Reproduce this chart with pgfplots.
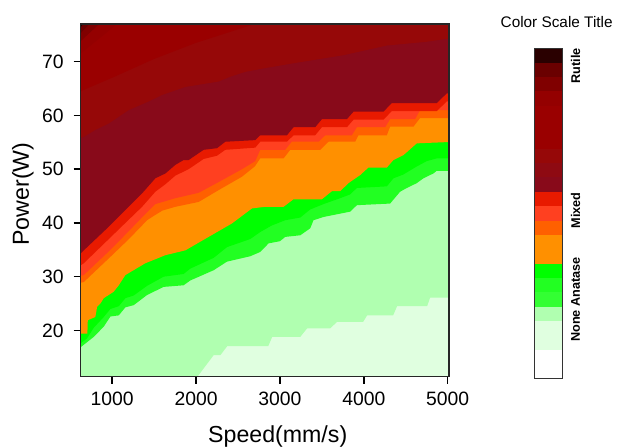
\documentclass[border=0pt]{standalone}
\usepackage{fontspec}
\setmainfont{Liberation Sans}
\usepackage{pgfplots}
\pgfplotsset{compat=1.18}

% level colours, lowest first
\definecolor{cW}{HTML}{FFFFFF}
\definecolor{cGa}{HTML}{E0FFE0}
\definecolor{cGb}{HTML}{B0FFB0}
\definecolor{cGc}{HTML}{33FF33}
\definecolor{cGd}{HTML}{22FF22}
\definecolor{cGe}{HTML}{00FF00}
\definecolor{cOa}{HTML}{FF9000}
\definecolor{cOb}{HTML}{FF6000}
\definecolor{cOc}{HTML}{FF4020}
\definecolor{cRa}{HTML}{E81A00}
\definecolor{cRb}{HTML}{880A1A}
\definecolor{cRc}{HTML}{8E0A12}
\definecolor{cRd}{HTML}{960808}
\definecolor{cRe}{HTML}{9A0000}
\definecolor{cRf}{HTML}{940000}
\definecolor{cRg}{HTML}{800000}
\definecolor{cRh}{HTML}{6A0000}
\definecolor{cRi}{HTML}{2A0000}

\begin{document}
\begin{tikzpicture}
\useasboundingbox (-48.4pt,-42.2pt) rectangle (323.6pt,226.0pt);

\begin{axis}[
    at={(0pt,0pt)}, anchor=south west,
    scale only axis,
    width=221pt, height=211.6pt,
    xmin=625, xmax=5015,
    ymin=11.4, ymax=77,
    xtick={1000,2000,3000,4000,5000},
    ytick={20,30,40,50,60,70},
    xtick pos=left, ytick pos=left,
    tick align=outside,
    major tick length=4.2pt,
    tick style={black, line width=0.9pt},
    axis line style={black!85, line width=0.9pt},
    axis on top,
    scaled x ticks=false,
    /pgf/number format/1000 sep={},
    /pgf/number format/assume math mode=true,
    ticklabel style={font=\fontsize{11.6}{13}\selectfont},
    xticklabel style={yshift=-1.5pt},
    yticklabel style={xshift=-2.5pt},
    label style={font=\fontsize{13.9}{16}\selectfont},
    xlabel={Speed(mm/s)},
    ylabel={Power(W)},
    x label style={at={(axis description cs:0.535,0)}, anchor=center, yshift=-36.2pt},
    y label style={at={(axis description cs:-0.1567,0.518)}, anchor=center},
]
% whole field
\addplot[fill=cGa, draw=none] coordinates {(500,5) (5100,5) (5100,80) (500,80)} -- cycle;
% B1
\addplot[fill=cGb, draw=none] coordinates {
  (500,5) (1714,5) (2012,11.3) (2210,15.4) (2290,15.4) (2373,17.1) (2861,17.1)
  (2908,18.8) (3242,18.8) (3325,20.4) (3599,20.4) (3682,21.6) (3992,21.6)
  (4039,22.8) (4349,22.8) (4396,24.5) (4754,24.5) (4790,26.1) (5100,26.1)
  (5100,80) (500,80)} -- cycle;
% B2
\addplot[fill=cGd, draw=none] coordinates {
  (500,16.5) (625,16.9) (643,17.1) (781,18.8) (900,20.7) (980,22.6) (1079,22.8)
  (1158,24.3) (1257,24.7) (1417,26.6) (1614,28.1) (1852,28.4) (1932,29.3)
  (2210,31.2) (2369,32.8) (2646,33.8) (2765,34.6) (2865,36.2) (3000,36.6)
  (3063,37.4) (3242,37.7) (3361,39.0) (3400,40.5) (3519,41.1) (3837,42.1)
  (3917,43.3) (4313,43.6) (4432,45.8) (4500,46.4) (4631,47.4) (4710,48.3)
  (4829,49.2) (4869,49.7) (5100,49.7)
  (5100,80) (500,80)} -- cycle;
% B3
\addplot[fill=cGe, draw=none] coordinates {
  (500,17.4) (625,17.6) (700,18.5) (781,20.5) (900,22.5) (980,24.0) (1079,24.5)
  (1158,26.0) (1257,26.5) (1417,28.3) (1614,30.0) (1852,30.5) (1932,31.5)
  (2210,33.5) (2369,35.5) (2646,37.0) (2765,38.3) (2900,39.5) (3063,40.5)
  (3242,41.0) (3361,42.5) (3519,43.5) (3700,44.5) (3837,45.3) (3917,46.5)
  (4274,46.8) (4353,48.3) (4471,49.0) (4631,50.5) (4750,51.5) (4869,52.0)
  (5100,52.0)
  (5100,80) (500,80)} -- cycle;
% B4
\addplot[fill=cOa, draw=none] coordinates {
  (500,19.4) (705,19.4) (710,21.9) (800,22.5) (821,24.4) (860,25.0) (900,26.0)
  (1019,27.2) (1079,28.4) (1158,30.3) (1396,32.5) (1635,34.0) (1873,34.9)
  (2150,37.4) (2428,39.9) (2667,42.7) (2825,43.0) (3043,43.0) (3162,44.4)
  (3500,44.4) (3619,45.9) (3718,45.9) (3817,47.4) (3956,48.9) (4055,50.3)
  (4274,50.3) (4353,51.7) (4471,52.6) (4631,54.8) (5100,55.1)
  (5100,80) (500,80)} -- cycle;
% B5
\addplot[fill=cOb, draw=none] coordinates {
  (500,28.5) (662,29.0) (980,33.7) (1200,37.0) (1417,40.5) (1495,41.3)
  (1600,42.3) (1754,43.0) (2031,43.9) (2269,46.1) (2548,48.6) (2700,50.5)
  (2765,52.0) (3043,52.0) (3123,53.6) (3480,53.6) (3579,55.1) (3897,55.1)
  (3936,56.3) (4274,56.3) (4313,57.9) (4591,57.9) (4670,59.5) (5100,59.5)
  (5100,80) (500,80)} -- cycle;
% B6
\addplot[fill=cOc, draw=none] coordinates {
  (500,29.8) (662,30.3) (980,35.0) (1200,38.5) (1417,42.0) (1515,43.5)
  (1754,44.6) (2031,45.6) (2269,47.6) (2548,50.0) (2706,51.5) (2765,53.6)
  (3063,53.6) (3140,55.1) (3460,55.1) (3540,56.3) (3857,56.3) (3917,57.8)
  (4254,57.8) (4313,59.3) (4611,59.3) (4670,61.0) (5100,61.0)
  (5100,80) (500,80)} -- cycle;
% B7
\addplot[fill=cRa, draw=none] coordinates {
  (500,31.9) (625,32.1) (662,32.5) (960,37.0) (1158,40.0) (1357,43.0)
  (1515,45.8) (1635,47.2) (1754,48.8) (1912,50.0) (2091,51.9) (2250,52.5)
  (2349,53.6) (2706,54.0) (2765,55.1) (3083,55.1) (3162,56.3) (3420,56.3)
  (3500,57.8) (3798,57.8) (3877,59.2) (4234,59.2) (4333,60.8) (4869,60.8)
  (4988,62.6) (5100,62.6)
  (5100,80) (500,80)} -- cycle;
% B8
\addplot[fill=cRb, draw=none] coordinates {
  (500,34.1) (625,34.3) (662,34.9) (960,39.3) (1158,42.4) (1357,45.5)
  (1515,48.3) (1635,49.2) (1754,50.8) (1852,51.7) (1912,51.7) (2091,53.6)
  (2250,53.9) (2349,55.1) (2706,55.4) (2765,56.3) (3083,56.3) (3162,57.8)
  (3420,57.8) (3500,59.3) (3798,59.3) (3877,60.7) (4234,60.7) (4333,62.3)
  (4869,62.3) (4988,64.1) (5100,64.1)
  (5100,80) (500,80)} -- cycle;
% B9
\addplot[fill=cRd, draw=none] coordinates {
  (500,55.3) (662,56.0) (800,57.3) (960,58.5) (1198,61.0) (1436,62.6)
  (1595,63.8) (1873,65.3) (2269,66.3) (2408,67.2) (2587,68.1) (2825,68.8)
  (3162,69.7) (3757,71.2) (4274,73.0) (4750,73.7) (5100,74.5)
  (5100,80) (500,80)} -- cycle;
% B10
\addplot[fill=cRe, draw=none] coordinates {
  (500,63.8) (625,64.5) (1000,67.0) (1500,70.5) (2000,73.5) (2500,76.0)
  (2800,77.5) (2800,80) (500,80)} -- cycle;
% top left corner
\addplot[fill=cRf, draw=none] coordinates {(500,71.0) (625,71.5) (1100,77.5) (500,80)} -- cycle;
\addplot[fill=cRg, draw=none] coordinates {(500,73.5) (625,73.8) (880,77.5) (500,80)} -- cycle;
\addplot[fill=cRh, draw=none] coordinates {(500,75.1) (625,75.3) (760,77.5) (500,80)} -- cycle;
\addplot[fill=cRi, draw=none] coordinates {(500,76.3) (625,76.4) (680,77.5) (500,80)} -- cycle;
\end{axis}

% colour scale
\begin{axis}[
    at={(272.0pt,-1.0pt)}, anchor=south west,
    scale only axis,
    width=17.2pt, height=198pt,
    xmin=0, xmax=1, ymin=0, ymax=23,
    ticks=none,
    axis line style={black!80, line width=0.6pt},
    axis on top,
    clip=false,
]
\addplot[fill=cW,  draw=none] coordinates {(0,0) (1,0) (1,2) (0,2)} -- cycle;
\addplot[fill=cGa, draw=none] coordinates {(0,2) (1,2) (1,4) (0,4)} -- cycle;
\addplot[fill=cGb, draw=none] coordinates {(0,4) (1,4) (1,5) (0,5)} -- cycle;
\addplot[fill=cGc, draw=none] coordinates {(0,5) (1,5) (1,6) (0,6)} -- cycle;
\addplot[fill=cGd, draw=none] coordinates {(0,6) (1,6) (1,7) (0,7)} -- cycle;
\addplot[fill=cGe, draw=none] coordinates {(0,7) (1,7) (1,8) (0,8)} -- cycle;
\addplot[fill=cOa, draw=none] coordinates {(0,8) (1,8) (1,10) (0,10)} -- cycle;
\addplot[fill=cOb, draw=none] coordinates {(0,10) (1,10) (1,11) (0,11)} -- cycle;
\addplot[fill=cOc, draw=none] coordinates {(0,11) (1,11) (1,12) (0,12)} -- cycle;
\addplot[fill=cRa, draw=none] coordinates {(0,12) (1,12) (1,13) (0,13)} -- cycle;
\addplot[fill=cRb, draw=none] coordinates {(0,13) (1,13) (1,14) (0,14)} -- cycle;
\addplot[fill=cRc, draw=none] coordinates {(0,14) (1,14) (1,15) (0,15)} -- cycle;
\addplot[fill=cRd, draw=none] coordinates {(0,15) (1,15) (1,16) (0,16)} -- cycle;
\addplot[fill=cRe, draw=none] coordinates {(0,16) (1,16) (1,19) (0,19)} -- cycle;
\addplot[fill=cRf, draw=none] coordinates {(0,19) (1,19) (1,20) (0,20)} -- cycle;
\addplot[fill=cRg, draw=none] coordinates {(0,20) (1,20) (1,21) (0,21)} -- cycle;
\addplot[fill=cRh, draw=none] coordinates {(0,21) (1,21) (1,22) (0,22)} -- cycle;
\addplot[fill=cRi, draw=none] coordinates {(0,22) (1,22) (1,23) (0,23)} -- cycle;
\node[rotate=90, font=\fontsize{7.6}{9}\selectfont\bfseries] at (axis cs:1.45,21.77) {Rutile};
\node[rotate=90, font=\fontsize{7.6}{9}\selectfont\bfseries] at (axis cs:1.45,11.7) {Mixed};
\node[rotate=90, font=\fontsize{7.6}{9}\selectfont\bfseries] at (axis cs:1.45,5.5) {None Anatase};
\end{axis}

\node[font=\fontsize{9.2}{11}\selectfont] at (285.6pt,212.5pt) {Color Scale Title};
\end{tikzpicture}
\end{document}
